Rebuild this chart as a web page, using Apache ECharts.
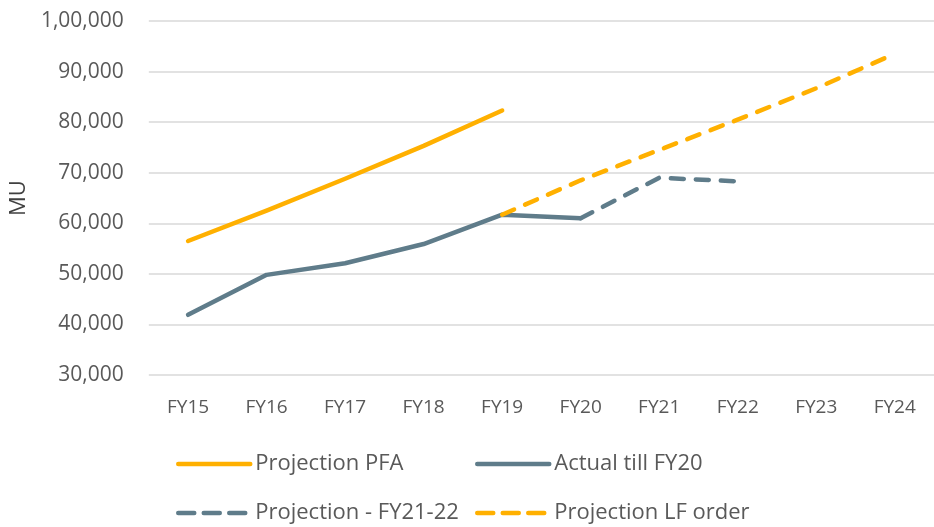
<!DOCTYPE html>
<html>
<head>
<meta charset="utf-8">
<script src="https://cdn.jsdelivr.net/npm/echarts@6/dist/echarts.min.js"></script>
<style>
  html, body { margin: 0; padding: 0; background: #ffffff; }
  #chart { width: 934px; height: 527px; }
</style>
</head>
<body>
<div id="chart"></div>
<script>
// Fiscal years on the category axis
const years = ['FY15', 'FY16', 'FY17', 'FY18', 'FY19', 'FY20', 'FY21', 'FY22', 'FY23', 'FY24'];

// Energy requirement in MU
const projectionPFA = [56500, 62500, 68800, 75300, 82300, null, null, null, null, null];
const actualTillFY20 = [41900, 49800, 52100, 55900, 61700, 61000, null, null, null, null];
const projectionFY2122 = [null, null, null, null, null, 61000, 69000, 68300, null, null];
const projectionLF = [null, null, null, null, 61700, 68500, 74500, 80500, 86700, 93500];

// Value axis range
const yMin = 30000;
const yMax = 100000;
const yStep = 10000;

const ORANGE = '#FFB000';
const SLATE = '#5F7C8A';
const TEXT = '#595959';
const FONT = '"Open Sans", "Noto Sans", sans-serif';

// Indian digit grouping: 100000 -> 1,00,000
function indianFormat(v) {
  const s = String(Math.round(v));
  if (s.length <= 3) return s;
  const last3 = s.slice(-3);
  let rest = s.slice(0, -3);
  const parts = [];
  while (rest.length > 2) {
    parts.unshift(rest.slice(-2));
    rest = rest.slice(0, -2);
  }
  if (rest.length) parts.unshift(rest);
  return parts.join(',') + ',' + last3;
}

const solidLine = (color) => ({ color: color, width: 4.5, type: 'solid', cap: 'round', join: 'round' });
const dashedLine = (color) => ({ color: color, width: 4.5, type: [13, 12], cap: 'round', join: 'round' });

// One legend block per entry so the four entries sit in a 2x2 layout
function legendAt(name, left, top, dashed) {
  return {
    left: left,
    top: top,
    padding: 0,
    itemWidth: 72,
    itemHeight: 14,
    itemGap: 5,
    textStyle: { color: TEXT, fontSize: 22, fontFamily: FONT },
    itemStyle: { opacity: 0 },
    lineStyle: { width: 4.5, cap: 'round', type: dashed ? [16, 9.5] : 'solid' },
    data: [name]
  };
}

const chart = echarts.init(document.getElementById('chart'), null, { renderer: 'canvas' });

chart.setOption({
  backgroundColor: '#ffffff',
  animation: false,
  grid: { left: 148, right: -6, top: 21, bottom: 152, containLabel: false },
  legend: [
    legendAt('Projection PFA', 176, 453, false),
    legendAt('Actual till FY20', 475, 453, false),
    legendAt('Projection - FY21-22', 176, 502, true),
    legendAt('Projection LF order', 475, 502, true)
  ],
  xAxis: {
    type: 'category',
    data: years,
    boundaryGap: true,
    axisLine: { show: false },
    axisTick: { show: false },
    axisLabel: { color: TEXT, fontSize: 19, fontFamily: FONT, margin: 23 }
  },
  yAxis: {
    type: 'value',
    min: yMin,
    max: yMax,
    interval: yStep,
    name: 'MU',
    nameLocation: 'middle',
    nameGap: 116,
    nameRotate: 90,
    nameTextStyle: { color: '#404040', fontSize: 22, fontFamily: FONT },
    axisLine: { show: false },
    axisTick: { show: false },
    axisLabel: { color: TEXT, fontSize: 21, fontFamily: FONT, margin: 25, formatter: indianFormat },
    splitLine: { show: true, lineStyle: { color: '#D9D9D9', width: 1.5 } }
  },
  series: [
    {
      name: 'Projection PFA', type: 'line', data: projectionPFA,
      symbol: 'none', connectNulls: false, lineStyle: solidLine(ORANGE), itemStyle: { color: ORANGE }
    },
    {
      name: 'Actual till FY20', type: 'line', data: actualTillFY20,
      symbol: 'none', connectNulls: false, lineStyle: solidLine(SLATE), itemStyle: { color: SLATE }
    },
    {
      name: 'Projection - FY21-22', type: 'line', data: projectionFY2122,
      symbol: 'none', connectNulls: false, lineStyle: dashedLine(SLATE), itemStyle: { color: SLATE }
    },
    {
      name: 'Projection LF order', type: 'line', data: projectionLF,
      symbol: 'none', connectNulls: false, lineStyle: dashedLine(ORANGE), itemStyle: { color: ORANGE }
    }
  ]
});
</script>
</body>
</html>
